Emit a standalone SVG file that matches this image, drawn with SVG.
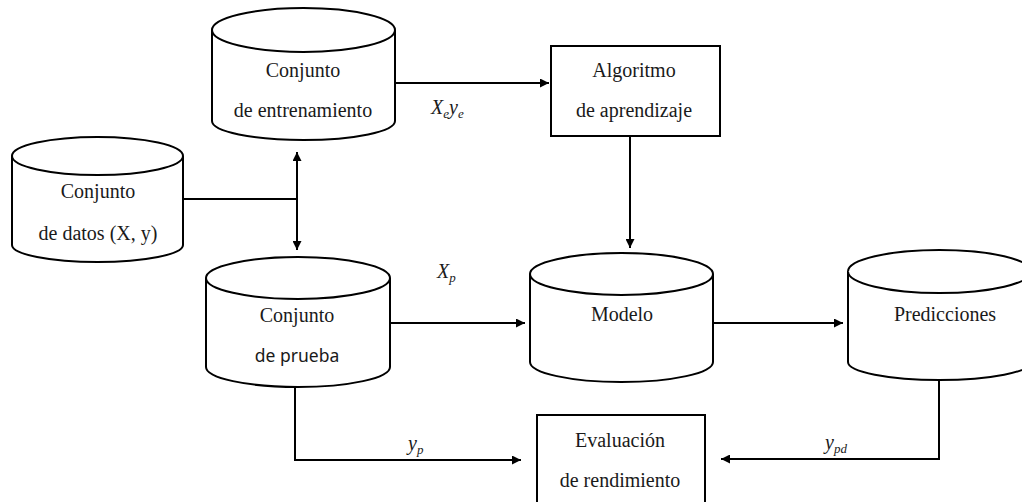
<svg xmlns="http://www.w3.org/2000/svg" width="1022" height="502" viewBox="0 0 1022 502">
<defs>
<style>
.shape{fill:#fff;stroke:#000;stroke-width:2}
.conn{fill:none;stroke:#000;stroke-width:2}
.t{font-size:20px;fill:#1a1a1a;text-anchor:middle}
.s{font-size:17.5px;fill:#1a1a1a;text-anchor:middle}
.lbl{font-style:italic;font-size:20px;fill:#1a1a1a}
.sub{font-size:13px}
</style>
<marker id="ah" viewBox="0 0 10 10" refX="10" refY="5" markerWidth="11" markerHeight="9" markerUnits="userSpaceOnUse" orient="auto-start-reverse">
<path d="M0,0 L10,5 L0,10 z" fill="#000"/>
</marker>
</defs>
<rect width="1022" height="502" fill="#fff"/>

<g id="connectors" font-family="'Liberation Serif', 'DejaVu Serif', serif">
<line class="conn" x1="395" y1="83" x2="549" y2="83" marker-end="url(#ah)"/>
<line class="conn" x1="630" y1="136" x2="630" y2="248" marker-end="url(#ah)"/>
<line class="conn" x1="183" y1="199" x2="297" y2="199"/>
<line class="conn" x1="297" y1="152" x2="297" y2="250" marker-start="url(#ah)" marker-end="url(#ah)"/>
<line class="conn" x1="390" y1="323" x2="525" y2="323" marker-end="url(#ah)"/>
<line class="conn" x1="713" y1="323" x2="843" y2="323" marker-end="url(#ah)"/>
<polyline class="conn" points="295,387 295,460 521,460" marker-end="url(#ah)"/>
<polyline class="conn" points="939,380 939,459 721,459" marker-end="url(#ah)"/>
<text class="lbl" x="431" y="114">X<tspan class="sub" dy="4">e</tspan><tspan dy="-4">y</tspan><tspan class="sub" dy="4">e</tspan></text>
<text class="lbl" x="437" y="278">X<tspan class="sub" dy="4">p</tspan></text>
<text class="lbl" x="408" y="450">y<tspan class="sub" dy="4">p</tspan></text>
<text class="lbl" x="825" y="449">y<tspan class="sub" dy="4">pd</tspan></text>
</g>

<g id="entrenamiento" font-family="'Liberation Serif', 'DejaVu Serif', serif">
<path class="shape" d="M212,30 L212,121 A91.5,19 0 0 0 395,121 L395,30 A91.5,22 0 0 0 212,30 Z"/>
<path class="shape" d="M212,30 A91.5,22 0 0 0 395,30"/>
<text class="t" x="303" y="77">Conjunto</text>
<text class="t" x="303" y="117">de entrenamiento</text>
</g>

<g id="datos" font-family="'Liberation Serif', 'DejaVu Serif', serif">
<path class="shape" d="M12,156 L12,245 A85.5,17 0 0 0 183,245 L183,156 A85.5,19 0 0 0 12,156 Z"/>
<path class="shape" d="M12,156 A85.5,19 0 0 0 183,156"/>
<text class="t" x="98" y="198">Conjunto</text>
<text class="t" x="98" y="240">de datos (X, y)</text>
</g>

<g id="prueba" font-family="'Liberation Serif', 'DejaVu Serif', serif">
<path class="shape" d="M206,278 L206,367 A92,20 0 0 0 390,367 L390,278 A92,21 0 0 0 206,278 Z"/>
<path class="shape" d="M206,278 A92,21 0 0 0 390,278"/>
<text class="t" x="297" y="322">Conjunto</text>
<text class="s" x="297" y="362" font-family="'Noto Sans', 'Liberation Sans', sans-serif">de prueba</text>
</g>

<g id="algoritmo" font-family="'Liberation Serif', 'DejaVu Serif', serif">
<rect class="shape" x="551" y="46" width="169" height="90"/>
<text class="t" x="634" y="77">Algoritmo</text>
<text class="t" x="634" y="117">de aprendizaje</text>
</g>

<g id="modelo" font-family="'Liberation Serif', 'DejaVu Serif', serif">
<path class="shape" d="M530,274 L530,362 A91.5,20 0 0 0 713,362 L713,274 A91.5,21 0 0 0 530,274 Z"/>
<path class="shape" d="M530,274 A91.5,21 0 0 0 713,274"/>
<text class="t" x="622" y="321">Modelo</text>
</g>

<g id="predicciones" font-family="'Liberation Serif', 'DejaVu Serif', serif">
<path class="shape" d="M848,271.5 L848,362 A91.5,18 0 0 0 1031,362 L1031,271.5 A91.5,21.5 0 0 0 848,271.5 Z"/>
<path class="shape" d="M848,271.5 A91.5,21.5 0 0 0 1031,271.5"/>
<text class="t" x="945" y="321">Predicciones</text>
</g>

<g id="evaluacion" font-family="'Liberation Serif', 'DejaVu Serif', serif">
<rect class="shape" x="537" y="415" width="168" height="100"/>
<text class="t" x="620" y="447">Evaluación</text>
<text class="t" x="620" y="487">de rendimiento</text>
</g>
</svg>
